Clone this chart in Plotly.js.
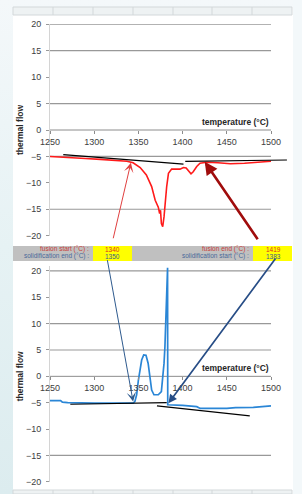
<!DOCTYPE html>
<html>
<head>
<meta charset="utf-8">
<script src="https://cdn.plot.ly/plotly-3.0.1.min.js"></script>
<style>
html,body{margin:0;padding:0;width:302px;height:494px;overflow:hidden;
background:linear-gradient(to bottom,#f4f8fa 0%,#e6f2f4 50%,#dcecef 100%);}
#chart{width:302px;height:494px;}
</style>
</head>
<body>
<div id="chart"></div>
<script>
// ---- data ----
const xTicks = [1250, 1300, 1350, 1400, 1450, 1500];
const yTicks = [-20, -15, -10, -5, 0, 5, 10, 15, 20];
const topGrid = [20, 15, 5, -5, -15];
const botGrid = [20, 10, 5, -15];

// fusion (heating) curve - red
const redT = [1250, 1269, 1290, 1307, 1325, 1337, 1344, 1352, 1359, 1365, 1369, 1372.5, 1374, 1375, 1376, 1377.5, 1379, 1380, 1382, 1384, 1387.6, 1397, 1401, 1404, 1407, 1409.5, 1412, 1416, 1419.7, 1422, 1427, 1440, 1454, 1470, 1491, 1500];
const redF = [-5.0, -5.25, -5.4, -5.56, -5.75, -5.9, -6.2, -7.1, -8.5, -10.7, -13.3, -14.6, -15.8, -15.2, -17.7, -18.3, -16.4, -13.9, -10.7, -8.2, -7.4, -7.4, -7.1, -7.2, -7.9, -8.3, -7.9, -6.9, -6.3, -6.2, -6.1, -6.2, -6.4, -6.3, -6.1, -5.9];

// solidification (cooling) curve - blue
const blueT = [1250, 1262, 1264, 1270, 1300, 1330, 1344, 1346, 1348, 1350, 1352, 1353.7, 1356, 1358.6, 1361, 1363, 1365, 1367.6, 1372.5, 1376, 1378, 1379, 1380, 1381, 1382, 1382.6, 1383.0, 1383.2, 1386, 1400, 1416, 1420, 1450, 1460, 1480, 1500];
const blueF = [-4.6, -4.6, -4.9, -5.0, -5.1, -5.1, -5.1, -4.8, -3.5, -0.7, 1.2, 3.1, 4.05, 4.0, 2.5, 0.0, -2.6, -3.5, -3.5, -2.9, 0.0, 2.5, 5.6, 12.0, 18.3, 20.6, 20.6, -5.4, -5.4, -5.5, -5.75, -6.1, -6.1, -5.95, -5.9, -5.6];

// tangent (onset) lines
const topTan1T = [1265, 1401], topTan1F = [-4.67, -6.44];
const topTan2T = [1403, 1518], topTan2F = [-5.93, -5.68];
const botTan1T = [1273, 1382], botTan1F = [-5.3, -5.0];
const botTan2T = [1371, 1476], botTan2F = [-5.6, -7.5];

// table values
const tableLabels = ['fusion start (°C) :', 'solidification end (°C) :', 'fusion end (°C) :', 'solidification start (°C) :'];
const tableValues = [1340, 1350, 1419, 1383];

// ---- helpers (pixel -> paper) ----
const W = 302, H = 494;
const PX = x => x / W;
const PY = y => 1 - y / H;

const xDom = [PX(50), PX(50 + 275 * 0.884)];
const axisFont = {family: 'Liberation Sans, Arial, sans-serif', size: 9, color: '#404040'};

function gridShapes(vals, xr, yr) {
  return vals.map(v => ({type: 'line', xref: xr, yref: yr, x0: 1250, x1: 1500, y0: v, y1: v,
    line: {color: '#999999', width: 1.2}, layer: 'below'}));
}

const shapes = [];
// white panel & right strip
shapes.push({type: 'rect', xref: 'paper', yref: 'paper', x0: PX(13), x1: PX(293), y0: PY(494), y1: PY(7), fillcolor: '#ffffff', line: {width: 0}, layer: 'below'});
shapes.push({type: 'rect', xref: 'paper', yref: 'paper', x0: PX(293), x1: PX(302), y0: PY(494), y1: PY(0), fillcolor: '#f3f8fa', line: {width: 0}, layer: 'below'});
// spreadsheet header row (top) and footer row (bottom)
shapes.push({type: 'rect', xref: 'paper', yref: 'paper', x0: PX(13), x1: PX(292), y0: PY(15), y1: PY(7), fillcolor: '#eef2f3', line: {color: '#d3d8da', width: 1}, layer: 'below'});
shapes.push({type: 'rect', xref: 'paper', yref: 'paper', x0: PX(13), x1: PX(292), y0: PY(494), y1: PY(490), fillcolor: '#eef2f3', line: {color: '#d3d8da', width: 1}, layer: 'below'});
[53, 93, 133, 173, 212, 252].forEach(xp => {
  shapes.push({type: 'line', xref: 'paper', yref: 'paper', x0: PX(xp), x1: PX(xp), y0: PY(15), y1: PY(7), line: {color: '#d3d8da', width: 1}, layer: 'below'});
  shapes.push({type: 'line', xref: 'paper', yref: 'paper', x0: PX(xp), x1: PX(xp), y0: PY(494), y1: PY(490), line: {color: '#d3d8da', width: 1}, layer: 'below'});
});
// table band
shapes.push({type: 'rect', xref: 'paper', yref: 'paper', x0: PX(13), x1: PX(292), y0: PY(261), y1: PY(246), fillcolor: '#c0c0c0', line: {width: 0}, layer: 'above'});
shapes.push({type: 'rect', xref: 'paper', yref: 'paper', x0: PX(93), x1: PX(132), y0: PY(261), y1: PY(246), fillcolor: '#ffff00', line: {width: 0}, layer: 'above'});
shapes.push({type: 'rect', xref: 'paper', yref: 'paper', x0: PX(253), x1: PX(292), y0: PY(261), y1: PY(246), fillcolor: '#ffff00', line: {width: 0}, layer: 'above'});
// grid lines & x axis lines
shapes.push(...gridShapes(topGrid, 'x', 'y'));
shapes.push(...gridShapes(botGrid, 'x2', 'y2'));
shapes.push({type: 'line', xref: 'x', yref: 'y', x0: 1250, x1: 1500, y0: 0, y1: 0, line: {color: '#8c8c8c', width: 1}, layer: 'below'});
shapes.push({type: 'line', xref: 'x2', yref: 'y2', x0: 1250, x1: 1500, y0: 0, y1: 0, line: {color: '#8c8c8c', width: 1}, layer: 'below'});

const annotations = [];
const boldFont = {family: 'Liberation Sans, Arial, sans-serif', size: 8.5, color: '#262626', weight: 700};
[['x', 'y'], ['x2', 'y2']].forEach(([xr, yr]) => {
  annotations.push({xref: 'paper', yref: yr, x: PX(20), y: 0, text: 'thermal flow', textangle: -90, showarrow: false, font: boldFont, xanchor: 'center', yanchor: 'middle'});
  annotations.push({xref: xr, yref: yr, x: 1500, y: 0, text: 'temperature (°C)', showarrow: false, font: boldFont, xanchor: 'right', yanchor: 'bottom', yshift: 1});
});
// table text
const tFont = (c) => ({family: 'Liberation Sans, Arial, sans-serif', size: 6.5, color: c});
const redTxt = '#c8403a', blueTxt = '#4a6a9a';
const rowsY = [249.5, 256.2, 249.5, 256.2];
const labelRight = [91, 91, 251, 251];
const valueCenter = [112.5, 112.5, 273, 273];
const txtColors = [redTxt, blueTxt, redTxt, blueTxt];
const valColors = ['#e0301e', '#3a5a8c', '#e0301e', '#3a5a8c'];
for (let i = 0; i < 4; i++) {
  annotations.push({xref: 'paper', yref: 'paper', x: PX(labelRight[i]), y: PY(rowsY[i]), text: tableLabels[i], showarrow: false, xanchor: 'right', yanchor: 'middle', font: tFont(txtColors[i])});
  annotations.push({xref: 'paper', yref: 'paper', x: PX(valueCenter[i]), y: PY(rowsY[i]), text: String(tableValues[i]), showarrow: false, xanchor: 'center', yanchor: 'middle', font: tFont(valColors[i])});
}
// arrows
annotations.push({xref: 'x', yref: 'y', x: 1341.5, y: -6.2, ax: -18, ay: 77, text: '', showarrow: true, arrowhead: 3, arrowsize: 1.6, arrowwidth: 1, arrowcolor: '#e04040'});
annotations.push({xref: 'x', yref: 'y', x: 1425, y: -6.0, ax: 54, ay: 79, text: '', showarrow: true, arrowhead: 2, arrowsize: 1, arrowwidth: 2.6, arrowcolor: '#a00c0c'});
annotations.push({xref: 'x2', yref: 'y2', x: 1344, y: -4.8, ax: -26, ay: -143, text: '', showarrow: true, arrowhead: 3, arrowsize: 1.6, arrowwidth: 1, arrowcolor: '#2e5a8e'});
annotations.push({xref: 'x2', yref: 'y2', x: 1384, y: -5.1, ax: 108, ay: -146, text: '', showarrow: true, arrowhead: 2, arrowsize: 1, arrowwidth: 1.7, arrowcolor: '#274d86'});

const lineTrace = (t, f, xa, ya, color, width) => ({type: 'scatter', mode: 'lines', x: t, y: f, xaxis: xa, yaxis: ya, line: {color: color, width: width}, hoverinfo: 'skip', showlegend: false});

const traces = [
  lineTrace(redT, redF, 'x', 'y', '#ff1a1a', 1.6),
  lineTrace(topTan1T, topTan1F, 'x', 'y', '#000000', 1.2),
  lineTrace(topTan2T, topTan2F, 'x', 'y', '#000000', 1.2),
  lineTrace(blueT, blueF, 'x2', 'y2', '#2a86d6', 1.7),
  lineTrace(botTan1T, botTan1F, 'x2', 'y2', '#000000', 1.2),
  lineTrace(botTan2T, botTan2F, 'x2', 'y2', '#000000', 1.2)
];

const xAxisBase = {range: [1250, 1525], domain: xDom, tickvals: xTicks, ticks: 'outside', ticklen: 3, tickcolor: '#8c8c8c',
  showline: false, showgrid: false, zeroline: false, tickfont: axisFont, anchor: 'free'};
const yAxisBase = {tickvals: yTicks, ticks: 'outside', ticklen: 3, tickcolor: '#999999', showline: true, linecolor: '#d4d4d4', linewidth: 1,
  showgrid: false, zeroline: false, tickfont: axisFont, ticklabelstandoff: 3};

const layout = {
  width: W, height: H,
  margin: {l: 0, r: 0, t: 0, b: 0, pad: 0},
  paper_bgcolor: 'rgba(0,0,0,0)', plot_bgcolor: 'rgba(0,0,0,0)',
  showlegend: false,
  xaxis: Object.assign({}, xAxisBase, {position: PY(130)}),
  yaxis: Object.assign({}, yAxisBase, {range: [-20, 20], domain: [PY(235.7), PY(24.3)], anchor: 'x'}),
  xaxis2: Object.assign({}, xAxisBase, {position: PY(376.4)}),
  yaxis2: Object.assign({}, yAxisBase, {range: [-20, 21], domain: [PY(481.7), PY(265.7)], anchor: 'x2'}),
  shapes: shapes,
  annotations: annotations
};

Plotly.newPlot('chart', traces, layout, {displayModeBar: false, staticPlot: true});
</script>
</body>
</html>
